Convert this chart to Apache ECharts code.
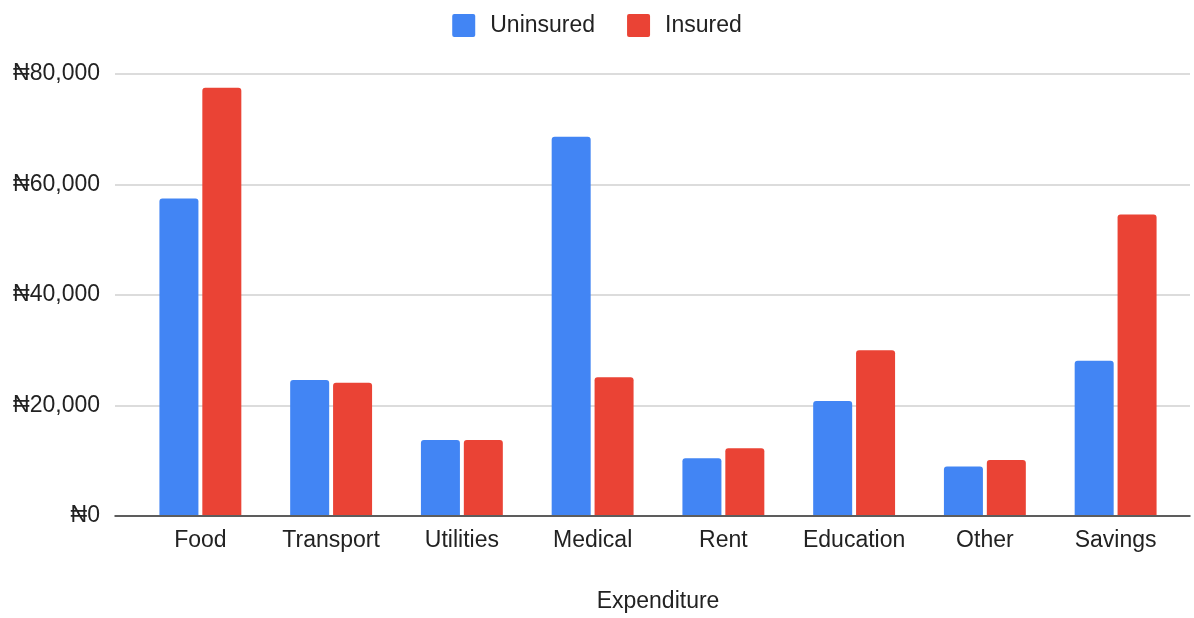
<!DOCTYPE html>
<html lang="en">
<head>
    <meta charset="UTF-8">
    <title>Expenditure</title>
    <script src="https://cdn.jsdelivr.net/npm/echarts@6/dist/echarts.min.js"></script>
    <style>
        html, body { margin: 0; padding: 0; background: #fff; }
    </style>
</head>
<body>
<div id="main" style="width: 1194px;height:618px;"></div>
<script type="text/javascript">
    // data
    var categories = ['Food', 'Transport', 'Utilities', 'Medical', 'Rent', 'Education', 'Other', 'Savings'];
    var uninsured = [57400, 24500, 13600, 68600, 10300, 20700, 8800, 28000];
    var insured = [77500, 24000, 13600, 25000, 12100, 29900, 10000, 54500];
    var yTicks = [0, 20000, 40000, 60000, 80000];

    var font = 'Liberation Sans, Arial, sans-serif';
    var yMax = yTicks[yTicks.length - 1];
    var yStep = yTicks[1] - yTicks[0];

    function naira(v) {
        return '\u20A6' + v.toLocaleString('en-US');
    }

    var myChart = echarts.init(document.getElementById('main'));
    myChart.setOption({
        animation: false,
        color: ['#4285F4', '#EA4335'],
        legend: {
            top: 9,
            left: 'center',
            itemWidth: 23,
            itemHeight: 23,
            itemGap: 32,
            icon: 'path://M2,0 L21,0 Q23,0 23,2 L23,21 Q23,23 21,23 L2,23 Q0,23 0,21 L0,2 Q0,0 2,0 Z',
            textStyle: { fontFamily: font, fontSize: 23, color: '#222', padding: [0, 0, 0, 10] },
            data: ['Uninsured', 'Insured']
        },
        grid: [
            // grid 0: gridlines, y labels and baseline across the full width
            { left: 115, right: 4, top: 74, bottom: 102 },
            // grid 1: the bars
            { left: 135, right: 13, top: 74, bottom: 102 }
        ],
        xAxis: [
            {
                gridIndex: 0, type: 'category', data: [''],
                axisLine: { show: true, lineStyle: { color: '#333', width: 1.5 } },
                axisTick: { show: false }, axisLabel: { show: false }
            },
            {
                gridIndex: 1, type: 'category', data: categories,
                axisLine: { show: false }, axisTick: { show: false },
                axisLabel: { fontFamily: font, fontSize: 23, color: '#222', margin: 14, interval: 0 },
                name: 'Expenditure', nameLocation: 'middle', nameGap: 75,
                nameTextStyle: { fontFamily: font, fontSize: 23, color: '#222' }
            }
        ],
        yAxis: [
            {
                gridIndex: 0, type: 'value', min: 0, max: yMax, interval: yStep,
                axisLine: { show: false }, axisTick: { show: false },
                axisLabel: { fontFamily: font, fontSize: 23, color: '#222', margin: 15, formatter: naira },
                splitLine: { lineStyle: { color: '#d0d0d0', width: 1.5 } }
            },
            {
                gridIndex: 1, type: 'value', min: 0, max: yMax, interval: yStep,
                axisLine: { show: false }, axisTick: { show: false },
                axisLabel: { show: false }, splitLine: { show: false }
            }
        ],
        series: [
            {
                name: 'Uninsured', type: 'bar', xAxisIndex: 1, yAxisIndex: 1,
                data: uninsured, barWidth: 39, barGap: '10%',
                itemStyle: { borderRadius: [3, 3, 0, 0] }
            },
            {
                name: 'Insured', type: 'bar', xAxisIndex: 1, yAxisIndex: 1,
                data: insured, barWidth: 39, barGap: '10%',
                itemStyle: { borderRadius: [3, 3, 0, 0] }
            }
        ]
    });
</script>
</body>
</html>
